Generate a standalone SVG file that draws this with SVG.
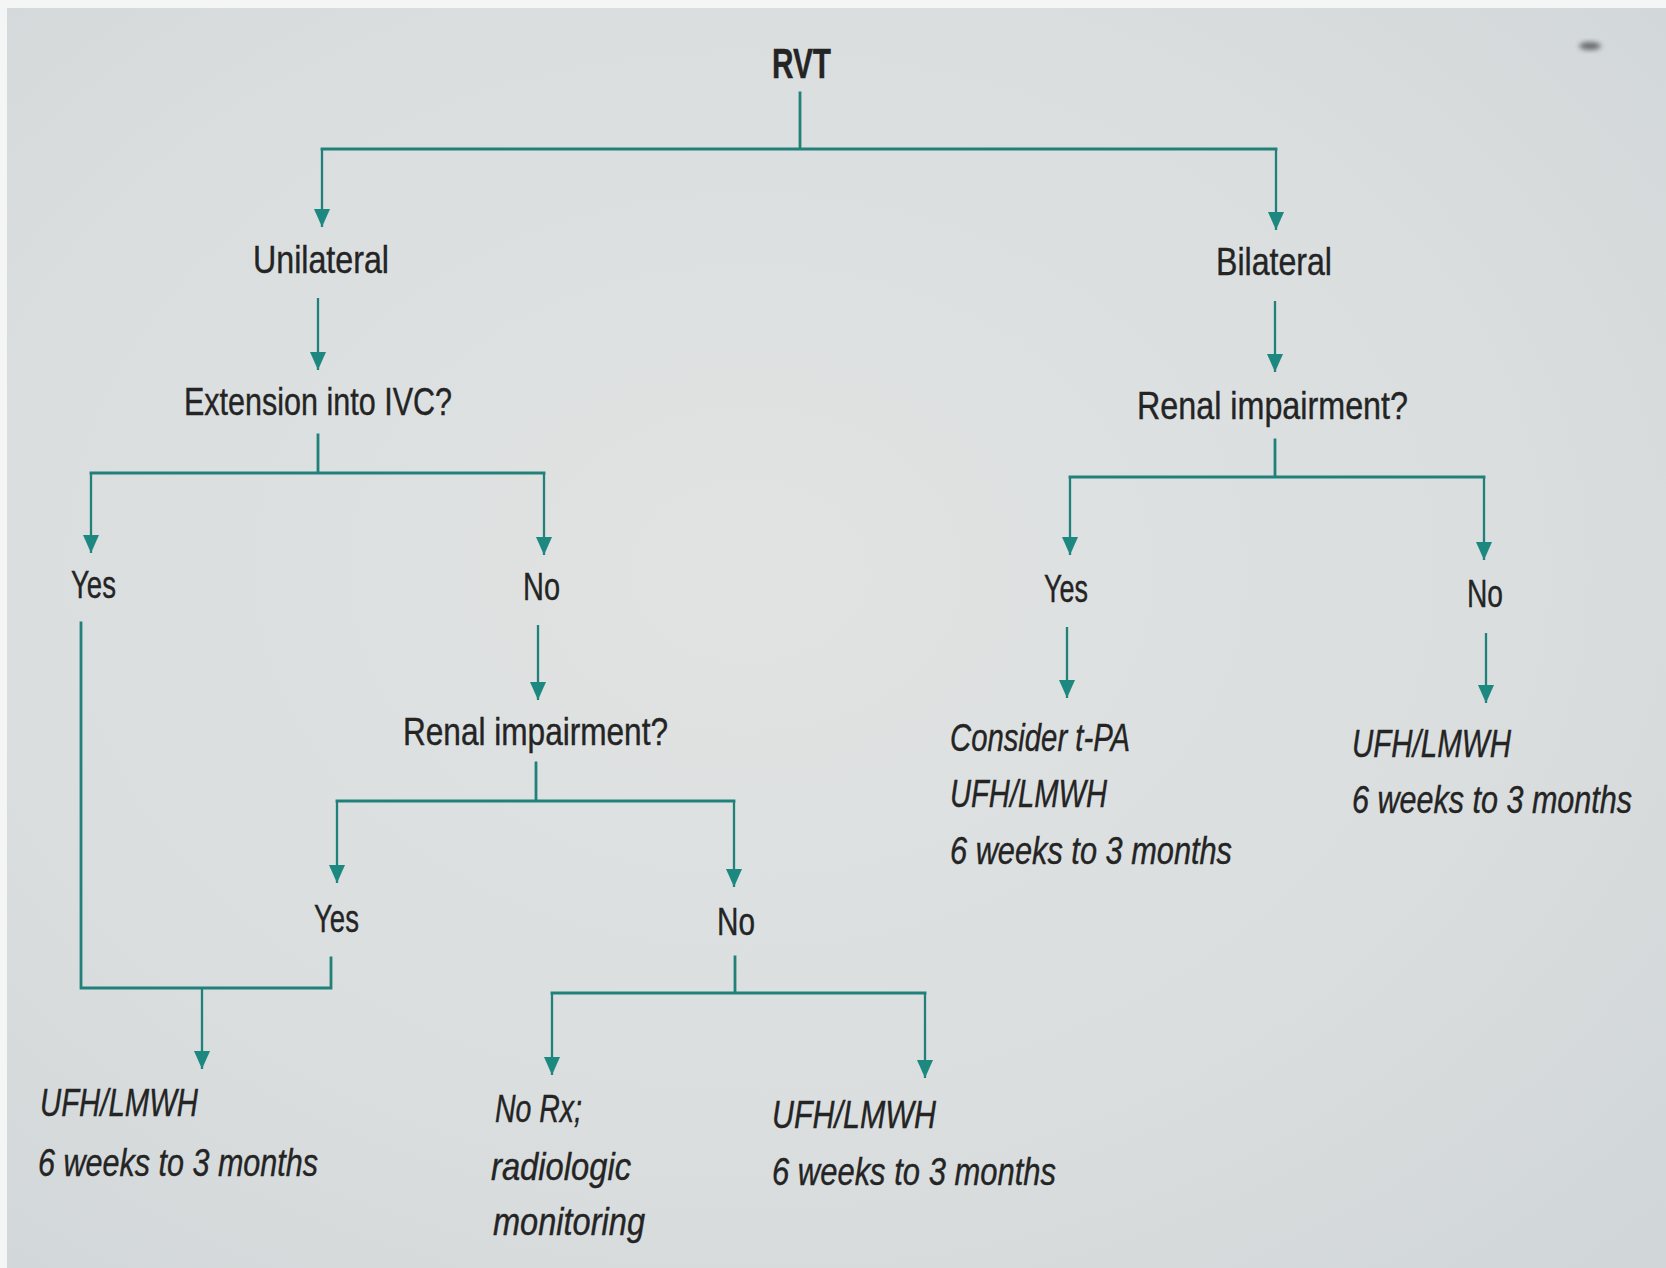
<svg xmlns="http://www.w3.org/2000/svg" width="1666" height="1268" viewBox="0 0 1666 1268">
  <defs>
    <radialGradient id="paper" cx="0.45" cy="0.45" r="0.75">
      <stop offset="0" stop-color="#e1e3e2"/>
      <stop offset="0.6" stop-color="#dadedf"/>
      <stop offset="1" stop-color="#d1d6d8"/>
    </radialGradient>
    <!-- arrowhead drawn along +x so orient="auto" points it down the connector -->
    <marker id="arrow" markerUnits="userSpaceOnUse" markerWidth="20" markerHeight="16" viewBox="0 0 20 16" refX="19" refY="8" orient="auto">
      <path d="M1 0 L19 8 L1 16 Z" fill="#1d8880"/>
    </marker>
    <filter id="soft" x="-50%" y="-50%" width="200%" height="200%">
      <feGaussianBlur stdDeviation="2.5"/>
    </filter>
  </defs>
  <style>
    .t { font-family: "Liberation Sans Narrow", "Liberation Sans", "DejaVu Sans Condensed", sans-serif; font-size: 38px; fill: #242424; stroke: #242424; stroke-width: 0.4; }
    .b { font-weight: bold; font-size: 42px; }
    .i { font-style: italic; }
    .c { fill: none; stroke: #20817a; stroke-width: 2.8; stroke-linecap: square; }
    .a { fill: none; stroke: #20817a; stroke-width: 2.3; marker-end: url(#arrow); }
  </style>

  <!-- page background -->
  <rect width="1666" height="1268" fill="url(#paper)"/>
  <rect x="0" y="0" width="1666" height="8" fill="#f4f5f5"/>
  <rect x="0" y="0" width="7" height="1268" fill="#f4f5f5"/>
  <ellipse cx="1590" cy="46" rx="11" ry="4" fill="#3a3d3f" opacity="0.7" filter="url(#soft)"/>

  <!-- connectors -->
  <g id="connectors">
    <path class="c" d="M800 93 V149 M322 149 H1276"/>
    <path class="a" d="M322 149 V227"/>
    <path class="a" d="M1276 149 V230"/>

    <path class="a" d="M318 298 V370"/>
    <path class="a" d="M1275 301 V372"/>

    <path class="c" d="M318 435 V473 M91 473 H544"/>
    <path class="a" d="M91 473 V553"/>
    <path class="a" d="M544 473 V555"/>

    <path class="a" d="M538 625 V700"/>

    <path class="c" d="M536 763 V801 M337 801 H734"/>
    <path class="a" d="M337 801 V883"/>
    <path class="a" d="M734 801 V887"/>

    <path class="c" d="M81 623 V988 H331 V958"/>
    <path class="a" d="M202 988 V1069"/>

    <path class="c" d="M735 957 V993 M552 993 H925"/>
    <path class="a" d="M552 993 V1075"/>
    <path class="a" d="M925 993 V1078"/>

    <path class="c" d="M1275 440 V477 M1070 477 H1484"/>
    <path class="a" d="M1070 477 V555"/>
    <path class="a" d="M1484 477 V560"/>

    <path class="a" d="M1067 627 V698"/>
    <path class="a" d="M1486 633 V703"/>
  </g>

  <!-- nodes -->
  <g id="rvt"><text class="t b" x="772" y="78" textLength="59" lengthAdjust="spacingAndGlyphs">RVT</text></g>
  <g id="unilateral"><text class="t" x="253" y="273" textLength="136" lengthAdjust="spacingAndGlyphs">Unilateral</text></g>
  <g id="bilateral"><text class="t" x="1216" y="275" textLength="116" lengthAdjust="spacingAndGlyphs">Bilateral</text></g>
  <g id="ivc-extension"><text class="t" x="184" y="415" textLength="268" lengthAdjust="spacingAndGlyphs">Extension into IVC?</text></g>
  <g id="renal-bilateral"><text class="t" x="1137" y="419" textLength="271" lengthAdjust="spacingAndGlyphs">Renal impairment?</text></g>

  <g id="ivc-yes"><text class="t" x="71" y="598" textLength="45" lengthAdjust="spacingAndGlyphs">Yes</text></g>
  <g id="ivc-no"><text class="t" x="523" y="600" textLength="37" lengthAdjust="spacingAndGlyphs">No</text></g>
  <g id="renal-unilateral"><text class="t" x="403" y="745" textLength="265" lengthAdjust="spacingAndGlyphs">Renal impairment?</text></g>
  <g id="renal-uni-yes"><text class="t" x="314" y="932" textLength="45" lengthAdjust="spacingAndGlyphs">Yes</text></g>
  <g id="renal-uni-no"><text class="t" x="717" y="935" textLength="38" lengthAdjust="spacingAndGlyphs">No</text></g>

  <g id="renal-bi-yes"><text class="t" x="1044" y="602" textLength="44" lengthAdjust="spacingAndGlyphs">Yes</text></g>
  <g id="renal-bi-no"><text class="t" x="1467" y="607" textLength="36" lengthAdjust="spacingAndGlyphs">No</text></g>

  <g id="tpa-treatment">
    <text class="t i" x="950" y="751" textLength="180" lengthAdjust="spacingAndGlyphs">Consider t-PA</text>
    <text class="t i" x="950" y="807" textLength="157" lengthAdjust="spacingAndGlyphs">UFH/LMWH</text>
    <text class="t i" x="950" y="864" textLength="282" lengthAdjust="spacingAndGlyphs">6 weeks to 3 months</text>
  </g>
  <g id="bi-anticoag">
    <text class="t i" x="1352" y="757" textLength="159" lengthAdjust="spacingAndGlyphs">UFH/LMWH</text>
    <text class="t i" x="1352" y="813" textLength="280" lengthAdjust="spacingAndGlyphs">6 weeks to 3 months</text>
  </g>
  <g id="uni-anticoag">
    <text class="t i" x="40" y="1116" textLength="158" lengthAdjust="spacingAndGlyphs">UFH/LMWH</text>
    <text class="t i" x="38" y="1176" textLength="280" lengthAdjust="spacingAndGlyphs">6 weeks to 3 months</text>
  </g>
  <g id="no-treatment">
    <text class="t i" x="495" y="1122" textLength="87" lengthAdjust="spacingAndGlyphs">No Rx;</text>
    <text class="t i" x="491" y="1180" textLength="140" lengthAdjust="spacingAndGlyphs">radiologic</text>
    <text class="t i" x="493" y="1235" textLength="152" lengthAdjust="spacingAndGlyphs">monitoring</text>
  </g>
  <g id="uni-anticoag-2">
    <text class="t i" x="772" y="1128" textLength="164" lengthAdjust="spacingAndGlyphs">UFH/LMWH</text>
    <text class="t i" x="772" y="1185" textLength="284" lengthAdjust="spacingAndGlyphs">6 weeks to 3 months</text>
  </g>
</svg>
